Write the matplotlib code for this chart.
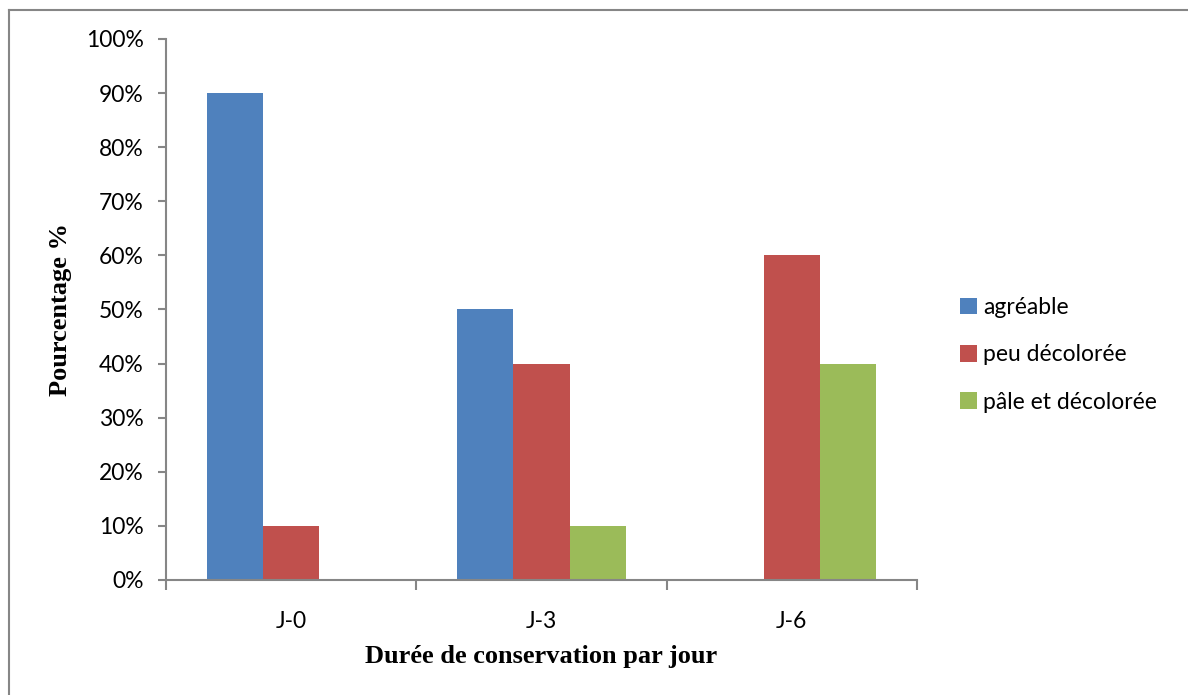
import numpy as np
import matplotlib.pyplot as plt
from matplotlib.lines import Line2D

jours = ['J-0', 'J-3', 'J-6']
agreable = [90, 50, 0]
peu_decoloree = [10, 40, 60]
pale_decoloree = [0, 10, 40]
series = ['agréable', 'peu décolorée', 'pâle et décolorée']
couleurs = ['#4F81BD', '#C0504D', '#9BBB59']

fig = plt.figure(figsize=(11.88, 6.95), dpi=100)
ax = fig.add_axes([0.1397, 0.1655, 0.6322, 0.7784])

x = np.arange(len(jours))
w = 0.224
for i, (vals, nom, c) in enumerate(zip([agreable, peu_decoloree, pale_decoloree], series, couleurs)):
    ax.bar(x + (i - 1) * w, vals, w, color=c, label=nom)

ax.set_xlim(-0.5, 2.5)
ax.set_ylim(0, 100)
ax.set_yticks(range(0, 101, 10))
ax.set_yticklabels([f'{v}%' for v in range(0, 101, 10)], fontsize=16.5, family='Lato')
ax.set_xticks(x)
ax.set_xticklabels(jours, fontsize=16.5, family='Lato')
ax.set_xticks([-0.5, 0.5, 1.5, 2.5], minor=True)
ax.tick_params(axis='x', which='major', length=0, pad=22)
ax.tick_params(axis='x', which='minor', length=7, color='#868686', width=1.5)
ax.tick_params(axis='y', length=6, color='#868686', width=1.5, pad=10)

for s in ['top', 'right']:
    ax.spines[s].set_visible(False)
for s in ['left', 'bottom']:
    ax.spines[s].set_color('#868686')
    ax.spines[s].set_linewidth(1.5)

ax.set_ylabel('Pourcentage %', fontsize=19, fontweight='bold', family='Liberation Serif', labelpad=10)
ax.set_xlabel('Durée de conservation par jour', fontsize=19, fontweight='bold', family='Liberation Serif', labelpad=10)

leg = ax.legend(loc='center left', bbox_to_anchor=(1.03, 0.416), frameon=False,
                prop={'family': 'Lato', 'size': 16.5}, handlelength=0.75, handleheight=0.75,
                handletextpad=0.25, labelspacing=1.15)

# cadre gris en haut et a gauche
fig.add_artist(Line2D([9/1188, 1], [1 - 10/695, 1 - 10/695], color='#868686', lw=1.5))
fig.add_artist(Line2D([9/1188, 9/1188], [0, 1 - 10/695], color='#868686', lw=1.5))

fig.savefig('out.png', dpi=100)
